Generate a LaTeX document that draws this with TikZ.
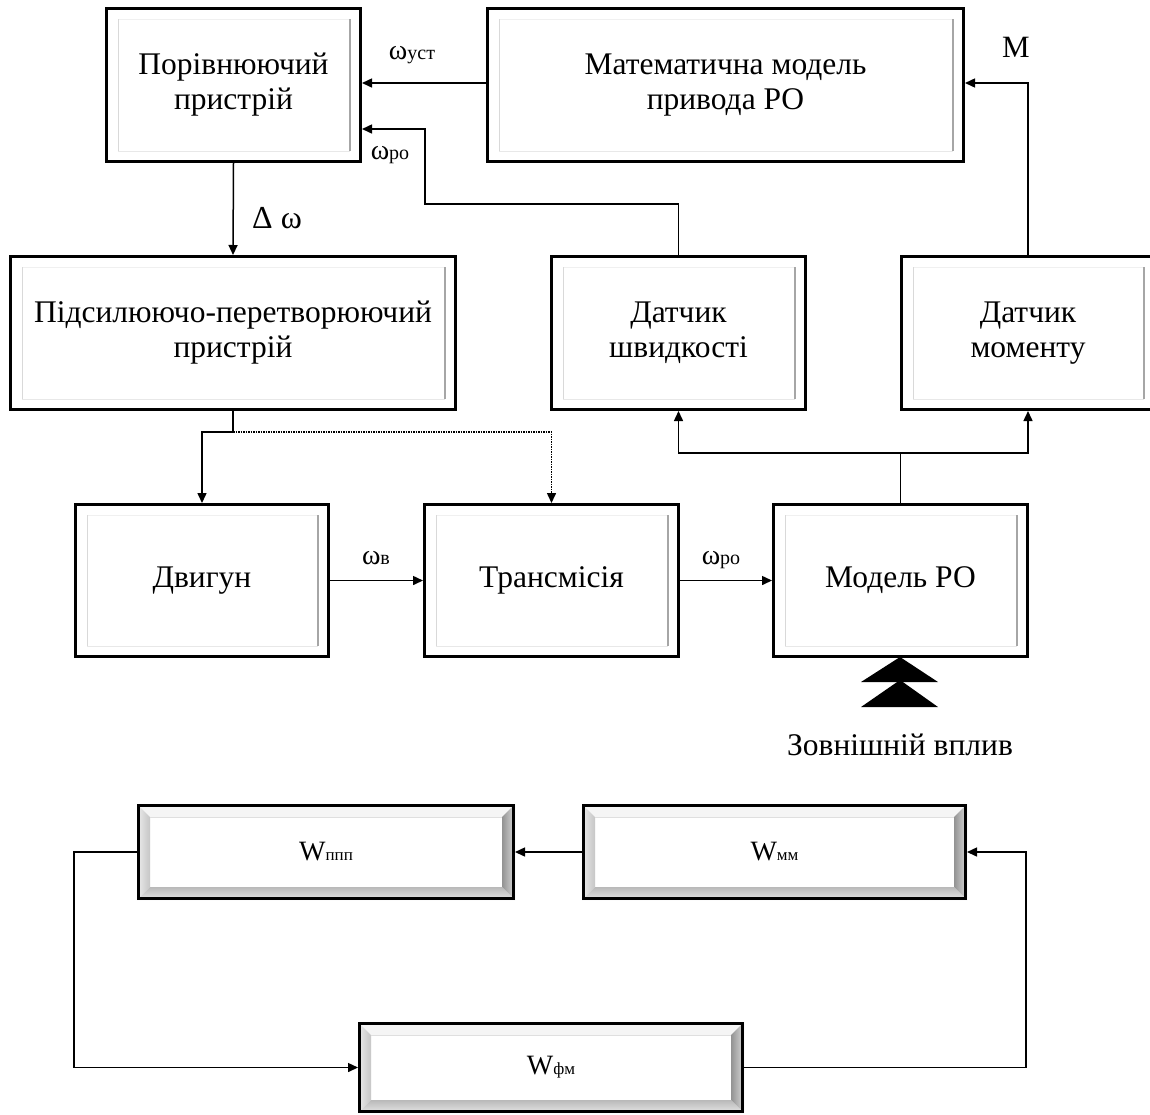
\documentclass[tikz,border=0pt]{standalone}
\usepackage{fontspec}
\setmainfont{Liberation Serif}
\usetikzlibrary{arrows.meta,calc}
\newcommand\bigtxt{\fontsize{31.5}{35}\selectfont}
\newcommand\om[1]{{\fontsize{28}{28}\selectfont ω}{\fontsize{20}{20}\selectfont #1}}
\newcommand\wlab[1]{{\fontsize{28}{28}\selectfont W}{\fontsize{17}{17}\selectfont #1}}
\tikzset{
  blk/.style={draw, line width=3pt, fill=white, align=center, font=\bigtxt, inner sep=0pt},
  bev/.style={draw, line width=3pt, fill=white, align=center, inner sep=0pt},
  arr/.style={line width=1.5pt, -{Triangle[length=10pt,width=9pt]}},
  lin/.style={line width=1.5pt},
  lbl/.style={inner sep=0pt},
}
\begin{document}
\begin{tikzpicture}[x=1pt,y=-1pt]
\useasboundingbox (0,0) rectangle (1150,1114);
% upper blocks
\node[blk, minimum width=254pt, minimum height=153pt] (A) at (233.5,85) {Порівнюючий\\пристрій};
\node[blk, minimum width=476pt, minimum height=153pt] (B) at (725.5,85) {Математична модель\\привода РО};
\node[blk, minimum width=445pt, minimum height=153pt] (C) at (233,333) {Підсилюючо-перетворюючий\\пристрій};
\node[blk, minimum width=254pt, minimum height=153pt] (D) at (678.5,333) {Датчик\\швидкості};
\node[blk, minimum width=253pt, minimum height=153pt] (E) at (1028,333) {Датчик\\моменту};
\node[blk, minimum width=253pt, minimum height=152pt] (F) at (202,580.5) {Двигун};
\node[blk, minimum width=254pt, minimum height=152pt] (G) at (551.5,580.5) {Трансмісія};
\node[blk, minimum width=254pt, minimum height=152pt] (H) at (900.5,580.5) {Модель РО};
\foreach \n in {A,B,C,D,E,F,G,H}{
  \draw[gray!12, line width=1pt] ([shift={(13pt,-12pt)}]\n.north west) -- ([shift={(-12pt,-12pt)}]\n.north east);
  \draw[gray!30, line width=1pt] ([shift={(13pt,-12pt)}]\n.north west) -- ([shift={(13pt,12pt)}]\n.south west);
  \draw[gray!18, line width=1pt] ([shift={(13pt,12pt)}]\n.south west) -- ([shift={(-12pt,12pt)}]\n.south east);
  \draw[gray!70, line width=1.5pt] ([shift={(-12pt,-12pt)}]\n.north east) -- ([shift={(-12pt,12pt)}]\n.south east);
}
% lower blocks
\node[bev, minimum width=375pt, minimum height=93pt] (P) at (326,852) {\wlab{ппп}};
\node[bev, minimum width=382pt, minimum height=93pt] (Q) at (774.5,852) {\wlab{мм}};
\node[bev, minimum width=383pt, minimum height=88pt] (R) at (551,1067.5) {\wlab{фм}};
\foreach \n in {P,Q,R}{
  \fill[gray!8] (\n.north west) -- (\n.north east) -- ([shift={(-13pt,-13pt)}]\n.north east) -- ([shift={(13pt,-13pt)}]\n.north west) -- cycle;
  \shade[left color=gray!15, right color=gray!45] (\n.north west) -- ([shift={(13pt,-13pt)}]\n.north west) -- ([shift={(13pt,13pt)}]\n.south west) -- (\n.south west) -- cycle;
  \shade[left color=gray!85, right color=gray!30] (\n.north east) -- ([shift={(-13pt,-13pt)}]\n.north east) -- ([shift={(-13pt,13pt)}]\n.south east) -- (\n.south east) -- cycle;
  \shade[top color=gray!55, bottom color=gray!20] (\n.south west) -- ([shift={(13pt,13pt)}]\n.south west) -- ([shift={(-13pt,13pt)}]\n.south east) -- (\n.south east) -- cycle;
  \draw[gray!25, line width=1pt] ([shift={(13pt,-13pt)}]\n.north west) -- ([shift={(-13pt,-13pt)}]\n.north east);
  \draw[line width=3pt] ([shift={(1.5pt,-1.5pt)}]\n.north west) rectangle ([shift={(-1.5pt,1.5pt)}]\n.south east);
}
% junction coordinates
\coordinate (dA) at (425,204);
\coordinate (j1) at (233,432);
\coordinate (j2) at (900.5,453);
\coordinate (lc) at (74,960);
\coordinate (rc) at (1026,960);
% connectors
\draw[arr] ([yshift=2pt]B.west) -- ([yshift=2pt]A.east);
\draw[arr] (D.north) |- (dA) |- ([yshift=-44pt]A.east);
\draw[arr] (E.north) |- ([yshift=2pt]B.east);
\draw[arr] (A.south) -- (C.north);
\draw[lin] (C.south) -- (j1);
\draw[arr] (j1) -| (F.north);
\draw[arr, densely dotted] (j1) -| (G.north);
\draw[arr] (F.east) -- (G.west);
\draw[arr] (G.east) -- (H.west);
\draw[lin] (H.north) -- (j2);
\draw[arr] (j2) -| (D.south);
\draw[arr] (j2) -| (E.south);
\draw[arr] (Q.west) -- (P.east);
\draw[arr] (P.west) -| (lc) |- (R.west);
\draw[arr] (R.east) -| (rc) |- (Q.east);
% labels
\node[lbl] (lust) at (412,55) {\om{уст}};
\node[lbl] (lro1) at (390,155) {\om{ро}};
\node[lbl] (ldw) at (277,218) {\fontsize{32}{32}\selectfont Δ ω};
\node[lbl] (lM) at (1016,47) {\fontsize{31}{31}\selectfont M};
\node[lbl] (lwv) at (376,558) {\om{в}};
\node[lbl] (lro2) at (721,560) {\om{ро}};
\node[lbl] (lzv) at (900,745) {\bigtxt Зовнішній вплив};
% external influence triangles
\fill (900,657) -- (938,682) -- (861,682) -- cycle;
\fill (900,680) -- (938,707) -- (861,707) -- cycle;
\end{tikzpicture}
\end{document}
